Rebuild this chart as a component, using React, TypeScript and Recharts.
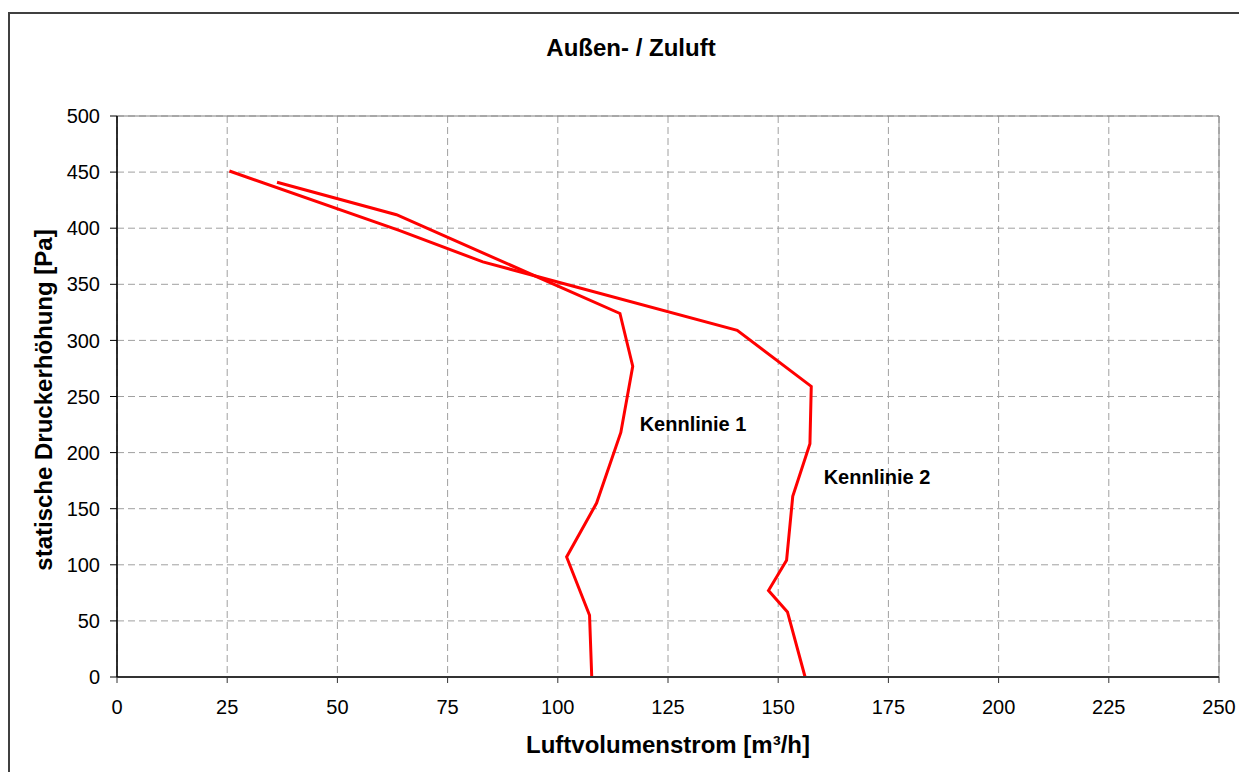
import React from 'react';
import { LineChart, Line, XAxis, YAxis, CartesianGrid, ReferenceArea } from 'recharts';

// Kennlinie 1 (volume flow m³/h, static pressure Pa)
const flow1 = [107.7, 107.2, 102, 108.8, 114.3, 117, 114.1, 63.4, 36.3];
const pressure1 = [0, 55, 107, 155, 218, 277, 324, 412, 441];

// Kennlinie 2
const flow2 = [156.1, 152.1, 147.8, 151.9, 153.3, 157.2, 157.5, 140.7, 83, 64, 25.5];
const pressure2 = [0, 58, 77, 104, 161, 208, 259, 309, 370, 398, 451];

const xTicks = [0, 25, 50, 75, 100, 125, 150, 175, 200, 225, 250];
const yTicks = [0, 50, 100, 150, 200, 250, 300, 350, 400, 450, 500];

const series1 = flow1.map((q, i) => ({ q, p: pressure1[i] }));
const series2 = flow2.map((q, i) => ({ q, p: pressure2[i] }));

const FONT = '"Liberation Sans", Arial, sans-serif';

const textStyle = (left: number, top: number, size: number): React.CSSProperties => ({
  position: 'absolute',
  left,
  top,
  transform: 'translateX(-50%)',
  fontFamily: FONT,
  fontWeight: 'bold',
  fontSize: size,
  lineHeight: `${size}px`,
  whiteSpace: 'nowrap',
  color: '#000',
});

const App: React.FC = () => {
  return (
    <div style={{ position: 'absolute', left: 0, top: 0, width: 1239, height: 772, overflow: 'hidden', background: '#fff' }}>
      <style>{'body{overflow:hidden}'}</style>
      <div
        style={{
          position: 'absolute',
          left: 8,
          top: 12,
          width: 1300,
          height: 800,
          border: '2px solid #404040',
          boxSizing: 'border-box',
        }}
      />
      <div style={{ position: 'absolute', left: 0, top: 0 }}>
        <LineChart
          width={1239}
          height={772}
          margin={{ top: 116, right: 20, bottom: 65, left: 57 }}
          style={{ fontFamily: FONT }}
        >
          <CartesianGrid stroke="#a0a0a0" strokeDasharray="7 4" />
          <ReferenceArea x1={0} x2={250} y1={0} y2={500} fill="none" stroke="#808080" strokeWidth={1} />
          <XAxis
            type="number"
            dataKey="q"
            domain={[0, 250]}
            ticks={xTicks}
            interval={0}
            height={30}
            tickSize={6}
            tickMargin={17}
            axisLine={{ stroke: '#333', strokeWidth: 2 }}
            tickLine={{ stroke: '#333' }}
            tick={{ fill: '#000', fontSize: 20 }}
            allowDuplicatedCategory={false}
          />
          <YAxis
            type="number"
            dataKey="p"
            domain={[0, 500]}
            ticks={yTicks}
            interval={0}
            width={60}
            tickSize={7}
            tickMargin={10}
            axisLine={{ stroke: '#000', strokeWidth: 1.5 }}
            tickLine={{ stroke: '#000' }}
            tick={{ fill: '#000', fontSize: 20 }}
          />
          <Line
            data={series1}
            dataKey="p"
            type="linear"
            stroke="#ff0000"
            strokeWidth={3}
            dot={false}
            isAnimationActive={false}
          />
          <Line
            data={series2}
            dataKey="p"
            type="linear"
            stroke="#ff0000"
            strokeWidth={3}
            dot={false}
            isAnimationActive={false}
          />
        </LineChart>
      </div>
      <div style={textStyle(631, 36, 24)}>Außen- / Zuluft</div>
      <div style={textStyle(668, 733, 24)}>Luftvolumenstrom [m³/h]</div>
      <div
        style={{
          ...textStyle(44, 388, 24),
          transform: 'translateX(-50%) rotate(-90deg)',
        }}
      >
        statische Druckerhöhung [Pa]
      </div>
      <div style={textStyle(693, 414, 20)}>Kennlinie 1</div>
      <div style={textStyle(877, 467, 20)}>Kennlinie 2</div>
    </div>
  );
};

export default App;
